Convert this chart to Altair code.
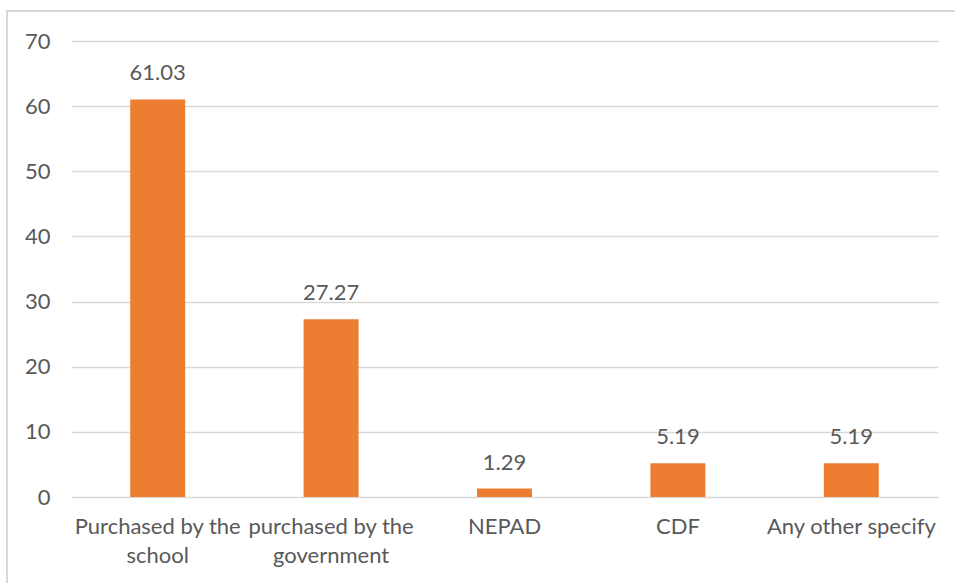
import altair as alt
import pandas as pd

# Source of the items, one line break marked with "|"
categories = [
    "Purchased by the|school",
    "purchased by the|government",
    "NEPAD",
    "CDF",
    "Any other specify",
]
values = [61.03, 27.27, 1.29, 5.19, 5.19]
y_ticks = [0, 10, 20, 30, 40, 50, 60, 70]

df = pd.DataFrame({"category": categories, "value": values})

FONT = "Lato"
GREY = "#595959"
ORANGE = "#ED7D31"

x_enc = alt.X(
    "category:N",
    sort=categories,
    title=None,
    scale=alt.Scale(paddingInner=0.683, paddingOuter=0.3415),
    axis=alt.Axis(
        labelAngle=0,
        labelExpr="split(datum.label, '|')",
        labelFont=FONT,
        labelFontSize=22,
        labelColor=GREY,
        labelLineHeight=29,
        labelPadding=19,
        labelBaseline="top",
        domain=False,
        ticks=False,
    ),
)

y_enc = alt.Y(
    "value:Q",
    title=None,
    scale=alt.Scale(domain=[0, 70], nice=False),
    axis=alt.Axis(
        values=y_ticks,
        labelFont=FONT,
        labelFontSize=22,
        labelColor=GREY,
        labelPadding=21,
        domain=False,
        ticks=False,
        grid=True,
        gridColor="#d9d9d9",
        gridWidth=1.5,
    ),
)

bars = alt.Chart(df).mark_bar(color=ORANGE).encode(x=x_enc, y=y_enc)

labels = alt.Chart(df).mark_text(
    font=FONT, fontSize=22, color=GREY, baseline="bottom", dy=-14
).encode(
    x=alt.X("category:N", sort=categories),
    y="value:Q",
    text=alt.Text("value:Q", format=".2f"),
)

# Light outline framing the whole figure
frame = alt.Chart(alt.Data(values=[{}])).mark_rect(
    fill=None, stroke="#d9d9d9", strokeWidth=2, clip=False
).encode(
    x=alt.value(-64),
    x2=alt.value(940),
    y=alt.value(-30),
    y2=alt.value(600),
)

chart = alt.layer(frame, bars, labels).properties(
    width=867,
    height=456,
    autosize=alt.AutoSizeParams(type="none"),
    padding={"left": 71, "top": 41, "right": 17, "bottom": 86},
    background="white",
).configure_view(stroke=None)

chart.save("out.html", embed_options={"renderer": "svg", "actions": False})
